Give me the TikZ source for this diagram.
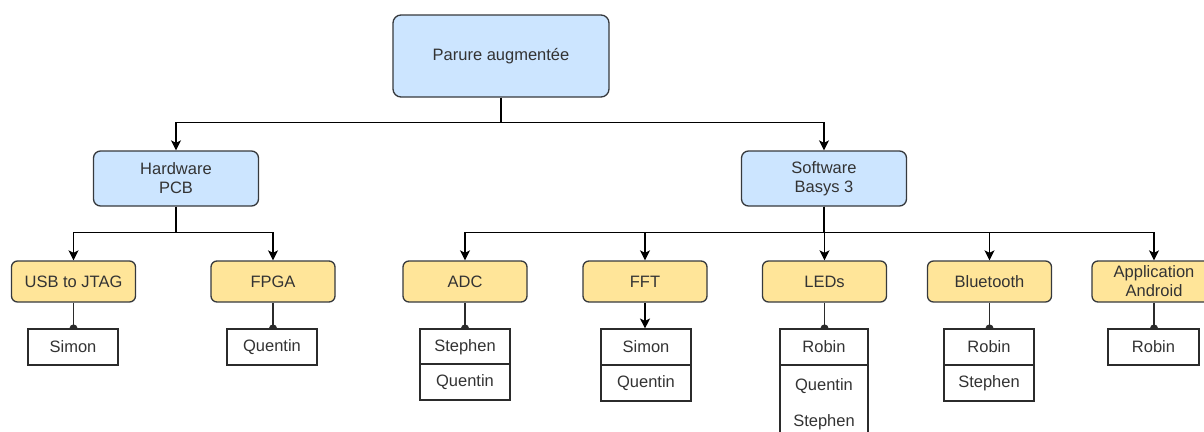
\documentclass[tikz,border=0pt]{standalone}
\usepackage{fontspec}
\setmainfont{Liberation Sans}
\usetikzlibrary{arrows.meta,calc,backgrounds}

\definecolor{txt}{HTML}{333333}
\definecolor{edge}{HTML}{36393D}
\definecolor{bluefill}{HTML}{CCE5FF}
\definecolor{yellowfill}{HTML}{FFE599}
\definecolor{wire}{HTML}{2B2B2B}

\tikzset{
  base/.style={draw=edge, line width=1.3pt, text=txt, align=center,
    font=\fontsize{16.5}{19}\selectfont, inner sep=0pt},
  topbox/.style={base, fill=bluefill, rounded corners=8pt},
  midbox/.style={base, fill=bluefill, rounded corners=7pt,
    minimum width=165pt, minimum height=55pt},
  taskbox/.style={base, fill=yellowfill, rounded corners=6pt,
    minimum width=124pt, minimum height=41pt},
  namecell/.style={base, fill=white, rounded corners=0pt, draw=wire,
    line width=1.1pt, minimum width=90pt, minimum height=36pt},
  arr/.style={draw=black, line width=1.4pt,
    -{Stealth[length=10pt,width=10pt,inset=2.5pt]}},
  dotlink/.style={draw=wire, line width=1.4pt,
    -{Circle[length=8pt,width=8pt]}, shorten >=-4pt},
}

\begin{document}
\begin{tikzpicture}[x=1pt,y=-1pt]
  \useasboundingbox (0,0) rectangle (1204,431);
  \clip (0,0) rectangle (1204,431);

  % project root
  \node[topbox, minimum width=216pt, minimum height=82pt] (root) at (501,56) {Parure augmentée};

  % main branches
  \node[midbox] (hw) at (176,178.5) {Hardware\\PCB};
  \node[midbox] (sw) at (824,178.5) {Software\\Basys 3};

  % tasks
  \node[taskbox] (usb)  at (73.5,281.5)  {USB to JTAG};
  \node[taskbox] (fpga) at (273,281.5)   {FPGA};
  \node[taskbox] (adc)  at (465,281.5)   {ADC};
  \node[taskbox] (fft)  at (645,281.5)   {FFT};
  \node[taskbox] (leds) at (824.5,281.5) {LEDs};
  \node[taskbox] (bt)   at (989.5,281.5) {Bluetooth};
  \node[taskbox] (app)  at (1154,281.5)  {Application\\Android};

  % people assigned to each task
  \node[namecell] (usbA)  at (73,347)   {Simon};
  \node[namecell] (fpgaA) at (272,347)  {Quentin};
  \node[namecell] (adcA)  at (465,347)  {Stephen};
  \node[namecell] (adcB)  at (465,382)  {Quentin};
  \node[namecell] (fftA)  at (646,347)  {Simon};
  \node[namecell] (fftB)  at (646,383)  {Quentin};
  \node[namecell, minimum width=88pt] (ledA) at (824,347) {Robin};
  \node[namecell, minimum width=88pt, minimum height=76pt, text depth=0pt]
    (ledB) at (824,403) {Quentin\\[17pt]Stephen};
  \node[namecell] (btA)   at (989,347)  {Robin};
  \node[namecell] (btB)   at (989,383)  {Stephen};
  \node[namecell, minimum width=91pt] (appA) at (1153.5,347) {Robin};

  \begin{scope}[on background layer]
    % tree links
    \draw[arr] (root.south) |- ($(hw.north)+(0,-28)$) -- (hw.north);
    \draw[arr] (root.south) |- ($(sw.north)+(0,-28)$) -- (sw.north);

    \foreach \t in {usb,fpga}
      \draw[arr] (hw.south) |- ($(\t.north)+(0,-28)$) -- (\t.north);
    \foreach \t in {adc,fft,leds,bt,app}
      \draw[arr] (sw.south) |- ($(\t.north)+(0,-28)$) -- (\t.north);

    % task to people
    \draw[dotlink] (usb.south)  -- (usb.south  |- usbA.north);
    \draw[dotlink] (fpga.south) -- (fpga.south |- fpgaA.north);
    \draw[dotlink] (adc.south)  -- (adc.south  |- adcA.north);
    \draw[arr]     (fft.south)  -- (fft.south  |- fftA.north);
    \draw[dotlink] (leds.south) -- (leds.south |- ledA.north);
    \draw[dotlink] (bt.south)   -- (bt.south   |- btA.north);
    \draw[dotlink] (app.south)  -- (app.south  |- appA.north);
  \end{scope}
\end{tikzpicture}
\end{document}
